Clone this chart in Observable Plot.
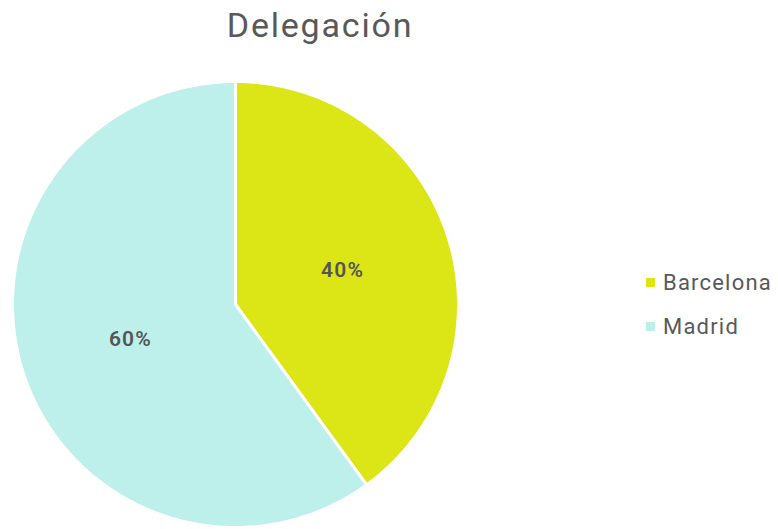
<!DOCTYPE html>
<html>
<head>
<meta charset="utf-8">
<script src="https://cdn.jsdelivr.net/npm/d3@7"></script>
<script src="https://cdn.jsdelivr.net/npm/@observablehq/plot@0.6"></script>
<style>
  html, body { margin: 0; padding: 0; background: #fff; }
  #wrap { position: relative; width: 778px; height: 529px; font-family: Roboto, "Open Sans", sans-serif; }
  #title { position: absolute; left: 0; top: 0; width: 640px; height: 55px; text-align: center; font-size: 34px; letter-spacing: 1.8px; color: #595959; line-height: 50px; }
  #chart { position: absolute; left: 0; top: 55px; }
  #chart text { letter-spacing: 1.2px; }
  #legend { position: absolute; left: 646px; top: 260px; font-size: 22px; letter-spacing: 1.2px; color: #595959; }
  .item { display: flex; align-items: center; height: 44px; }
  .sw { width: 9px; height: 9px; margin-right: 8px; }
</style>
</head>
<body>
<div id="wrap">
  <div id="title">Delegación</div>
  <div id="chart"></div>
  <div id="legend"></div>
</div>
<script>
const title = "Delegación";
const categories = ["Barcelona", "Madrid"];
const values = [40, 60];
const labels = ["40%", "60%"];
const colors = ["#dce516", "#bdefeb"];

const W = 778, H = 474;
const cx = 235, cy = 249, R = 223;

const arcs = d3.pie().sort(null)(values);
const slicePts = [];
arcs.forEach((a, i) => {
  const n = 200;
  slicePts.push({name: categories[i], x: 0, y: 0});
  for (let k = 0; k <= n; k++) {
    const t = a.startAngle + (a.endAngle - a.startAngle) * k / n;
    slicePts.push({name: categories[i], x: Math.sin(t), y: Math.cos(t)});
  }
  slicePts.push({name: categories[i], x: 0, y: 0});
});
const labelPts = arcs.map((a, i) => {
  const m = (a.startAngle + a.endAngle) / 2;
  return {label: labels[i], x: 0.5 * Math.sin(m), y: 0.5 * Math.cos(m)};
});

const plot = Plot.plot({
  width: W, height: H,
  margin: 0,
  x: {domain: [-cx / R, (W - cx) / R], range: [0, W], axis: null},
  y: {domain: [cy / R, -(H - cy) / R], range: [0, H], axis: null},
  color: {domain: categories, range: colors},
  style: {fontFamily: "Roboto, 'Open Sans', sans-serif", background: "transparent"},
  marks: [
    Plot.line(slicePts, {x: "x", y: "y", z: "name", fill: "name", stroke: "white", strokeWidth: 3, strokeLinejoin: "round", curve: "linear"}),
    Plot.text(labelPts, {x: "x", y: "y", text: "label", fontSize: 21, fontWeight: 600, fill: "#555555", dx: 1})
  ]
});
document.getElementById("chart").appendChild(plot);
document.getElementById("title").textContent = title;

const legend = document.getElementById("legend");
categories.forEach((c, i) => {
  const d = document.createElement("div");
  d.className = "item";
  d.innerHTML = `<span class="sw" style="background:${colors[i]}"></span><span>${c}</span>`;
  legend.appendChild(d);
});
</script>
</body>
</html>
